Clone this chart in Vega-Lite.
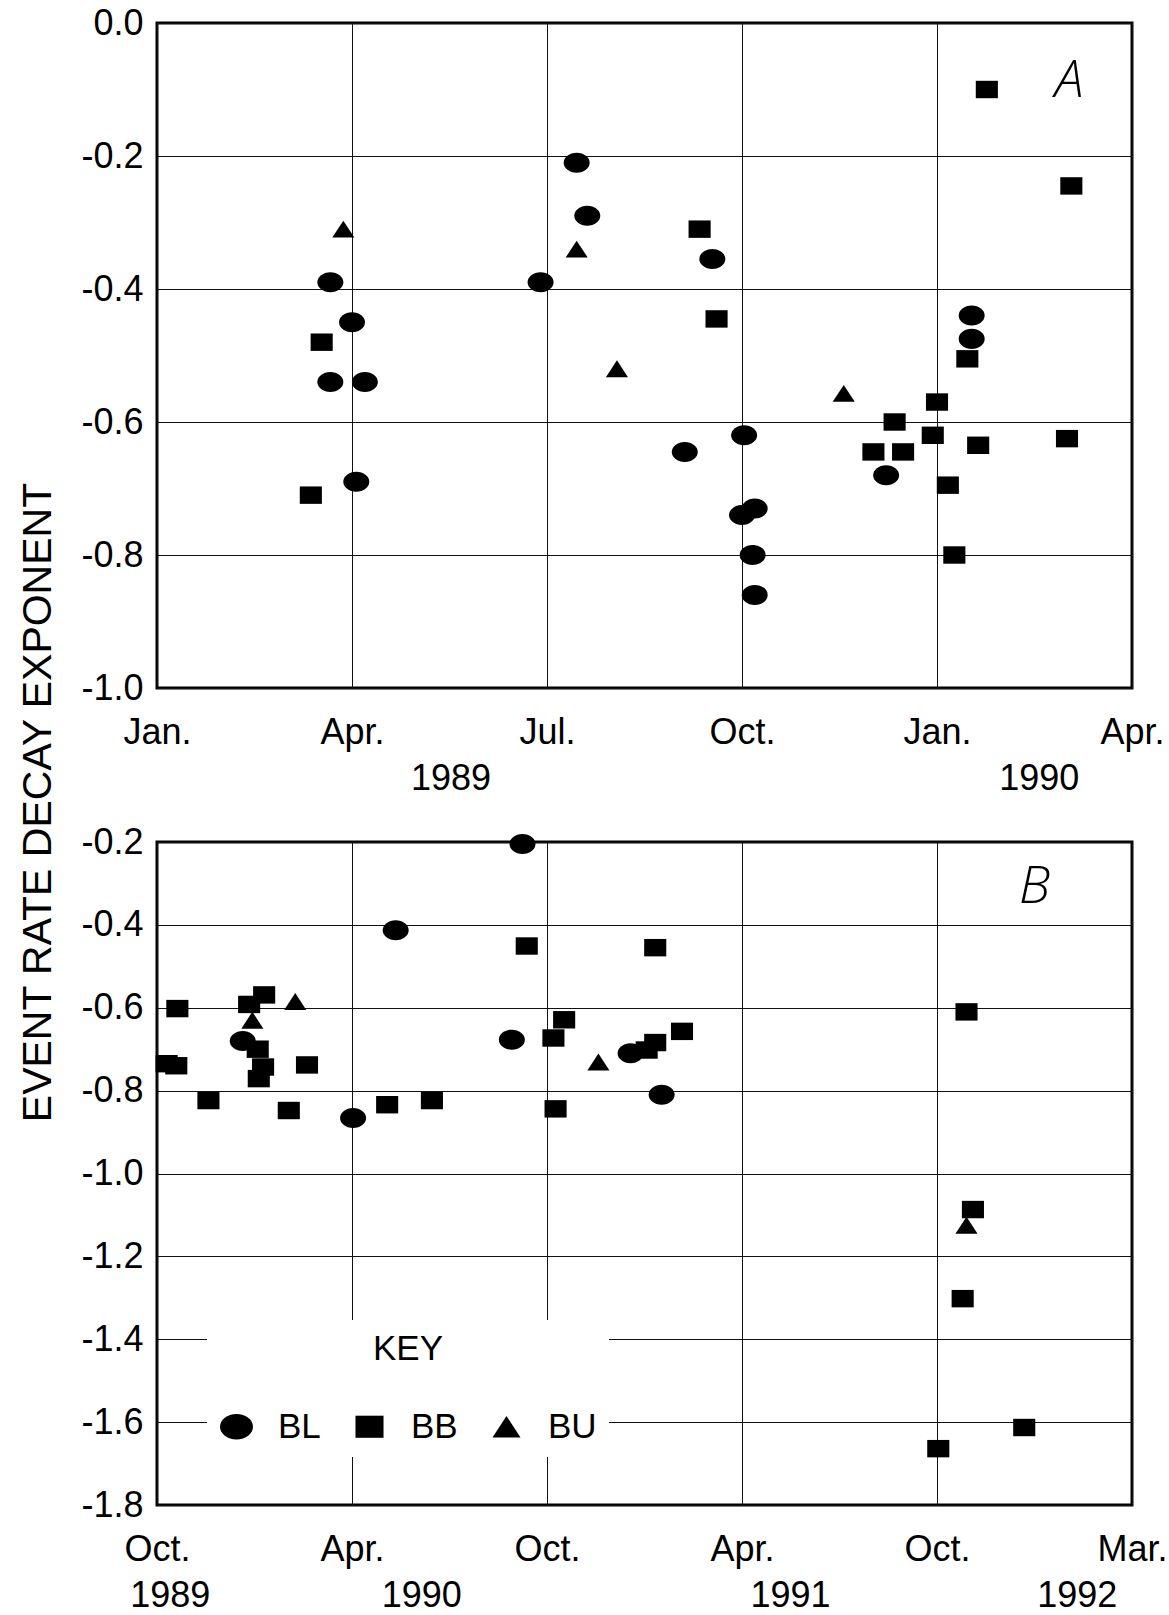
{
  "$schema": "https://vega.github.io/schema/vega-lite/v6.json",
  "background": "white",
  "padding": {"left": 15, "top": 3, "right": 5, "bottom": 5},
  "config": {
    "font": "Liberation Sans",
    "view": {"stroke": "#000", "strokeWidth": 3},
    "axis": {
      "domain": false,
      "ticks": false,
      "grid": true,
      "gridColor": "#111",
      "gridWidth": 1,
      "labelFont": "Liberation Sans",
      "labelFontSize": 36,
      "labelColor": "#000",
      "titleFont": "Liberation Sans",
      "titleColor": "#000",
      "titleFontWeight": "normal"
    },
    "legend": {
      "labelFont": "Liberation Sans",
      "titleFont": "Liberation Sans",
      "labelColor": "#000",
      "titleColor": "#000"
    }
  },
  "datasets": {
    "panelA": [
      {"date": "1989-03-22", "exponent": -0.39, "site": "BL"},
      {"date": "1989-04-01", "exponent": -0.45, "site": "BL"},
      {"date": "1989-03-22", "exponent": -0.54, "site": "BL"},
      {"date": "1989-04-07", "exponent": -0.54, "site": "BL"},
      {"date": "1989-04-03", "exponent": -0.69, "site": "BL"},
      {"date": "1989-06-28", "exponent": -0.39, "site": "BL"},
      {"date": "1989-07-15", "exponent": -0.21, "site": "BL"},
      {"date": "1989-07-20", "exponent": -0.29, "site": "BL"},
      {"date": "1989-09-04", "exponent": -0.645, "site": "BL"},
      {"date": "1989-09-17", "exponent": -0.355, "site": "BL"},
      {"date": "1989-10-02", "exponent": -0.62, "site": "BL"},
      {"date": "1989-10-01", "exponent": -0.74, "site": "BL"},
      {"date": "1989-10-07", "exponent": -0.73, "site": "BL"},
      {"date": "1989-10-06", "exponent": -0.8, "site": "BL"},
      {"date": "1989-10-07", "exponent": -0.86, "site": "BL"},
      {"date": "1989-12-08", "exponent": -0.68, "site": "BL"},
      {"date": "1990-01-17", "exponent": -0.44, "site": "BL"},
      {"date": "1990-01-17", "exponent": -0.475, "site": "BL"},
      {"date": "1989-03-18", "exponent": -0.48, "site": "BB"},
      {"date": "1989-03-13", "exponent": -0.71, "site": "BB"},
      {"date": "1989-09-11", "exponent": -0.31, "site": "BB"},
      {"date": "1989-09-19", "exponent": -0.445, "site": "BB"},
      {"date": "1989-12-02", "exponent": -0.645, "site": "BB"},
      {"date": "1989-12-12", "exponent": -0.6, "site": "BB"},
      {"date": "1989-12-16", "exponent": -0.645, "site": "BB"},
      {"date": "1989-12-30", "exponent": -0.62, "site": "BB"},
      {"date": "1990-01-01", "exponent": -0.57, "site": "BB"},
      {"date": "1990-01-06", "exponent": -0.695, "site": "BB"},
      {"date": "1990-01-09", "exponent": -0.8, "site": "BB"},
      {"date": "1990-01-15", "exponent": -0.505, "site": "BB"},
      {"date": "1990-01-20", "exponent": -0.635, "site": "BB"},
      {"date": "1990-01-24", "exponent": -0.1, "site": "BB"},
      {"date": "1990-03-04", "exponent": -0.245, "site": "BB"},
      {"date": "1990-03-02", "exponent": -0.625, "site": "BB"},
      {"date": "1989-03-28", "exponent": -0.31, "site": "BU"},
      {"date": "1989-07-15", "exponent": -0.34, "site": "BU"},
      {"date": "1989-08-03", "exponent": -0.52, "site": "BU"},
      {"date": "1989-11-18", "exponent": -0.557, "site": "BU"}
    ],
    "panelB": [
      {"date": "1989-12-20", "exponent": -0.68, "site": "BL"},
      {"date": "1990-04-02", "exponent": -0.866, "site": "BL"},
      {"date": "1990-05-12", "exponent": -0.413, "site": "BL"},
      {"date": "1990-09-08", "exponent": -0.205, "site": "BL"},
      {"date": "1990-08-29", "exponent": -0.677, "site": "BL"},
      {"date": "1990-12-18", "exponent": -0.71, "site": "BL"},
      {"date": "1991-01-16", "exponent": -0.81, "site": "BL"},
      {"date": "1989-10-10", "exponent": -0.735, "site": "BB"},
      {"date": "1989-10-19", "exponent": -0.74, "site": "BB"},
      {"date": "1989-10-20", "exponent": -0.602, "site": "BB"},
      {"date": "1989-11-18", "exponent": -0.824, "site": "BB"},
      {"date": "1989-12-26", "exponent": -0.592, "site": "BB"},
      {"date": "1990-01-09", "exponent": -0.569, "site": "BB"},
      {"date": "1990-01-03", "exponent": -0.7, "site": "BB"},
      {"date": "1990-01-08", "exponent": -0.743, "site": "BB"},
      {"date": "1990-01-04", "exponent": -0.771, "site": "BB"},
      {"date": "1990-02-18", "exponent": -0.738, "site": "BB"},
      {"date": "1990-02-01", "exponent": -0.848, "site": "BB"},
      {"date": "1990-05-04", "exponent": -0.834, "site": "BB"},
      {"date": "1990-06-15", "exponent": -0.824, "site": "BB"},
      {"date": "1990-09-12", "exponent": -0.451, "site": "BB"},
      {"date": "1990-10-07", "exponent": -0.673, "site": "BB"},
      {"date": "1990-10-17", "exponent": -0.629, "site": "BB"},
      {"date": "1990-10-09", "exponent": -0.844, "site": "BB"},
      {"date": "1991-01-02", "exponent": -0.702, "site": "BB"},
      {"date": "1991-01-10", "exponent": -0.684, "site": "BB"},
      {"date": "1991-01-10", "exponent": -0.455, "site": "BB"},
      {"date": "1991-02-04", "exponent": -0.657, "site": "BB"},
      {"date": "1991-10-24", "exponent": -0.61, "site": "BB"},
      {"date": "1991-10-29", "exponent": -1.087, "site": "BB"},
      {"date": "1991-10-21", "exponent": -1.302, "site": "BB"},
      {"date": "1991-10-02", "exponent": -1.664, "site": "BB"},
      {"date": "1991-12-08", "exponent": -1.613, "site": "BB"},
      {"date": "1989-12-29", "exponent": -0.63, "site": "BU"},
      {"date": "1990-02-07", "exponent": -0.585, "site": "BU"},
      {"date": "1990-11-18", "exponent": -0.731, "site": "BU"},
      {"date": "1991-10-24", "exponent": -1.125, "site": "BU"}
    ],
    "tagA": [{"date": "1990-03-03", "exponent": -0.087, "label": "A"}],
    "tagB": [{"date": "1991-12-16", "exponent": -0.309, "label": "B"}]
  },
  "spacing": 154,
  "bounds": "flush",
  "resolve": {"scale": {"shape": "independent"}, "legend": {"shape": "independent"}},
  "vconcat": [
    {
      "width": 975,
      "height": 665,
      "encoding": {
        "x": {
          "field": "date",
          "type": "quantitative",
          "scale": {
            "nice": false,
            "zero": false,
            "domain": [599616000000, 607392000000, 615254400000, 623203200000, 631152000000, 638928000000],
            "range": [0, 195, 390, 585, 780, 975]
          },
          "axis": {
            "title": null,
            "values": [599616000000, 607392000000, 615254400000, 623203200000, 631152000000, 638928000000, 611366400000, 635212800000],
            "labelExpr": "utcdate(datum.value) == 1 ? utcFormat(datum.value, '%b') + '.' : ['', utcFormat(datum.value, '%Y')]",
            "gridOpacity": {"condition": {"test": "utcdate(datum.value) != 1", "value": 0}, "value": 1},
            "labelPadding": 27,
            "labelLineHeight": 46,
            "labelFlush": false,
            "labelOverlap": false,
            "labelAlign": "center",
            "labelBaseline": "top"
          }
        },
        "y": {
          "field": "exponent",
          "type": "quantitative",
          "scale": {"domain": [-1, 0], "nice": false, "zero": false},
          "axis": {
            "values": [0, -0.2, -0.4, -0.6, -0.8, -1],
            "labelExpr": "(datum.value < -0.001 ? '-' : '') + format(abs(datum.value), '.1f')",
            "labelPadding": 14,
            "title": "EVENT RATE DECAY EXPONENT",
            "titleFontSize": 41,
            "titleAngle": 270,
            "titleAlign": "center",
            "titleBaseline": "middle",
            "titleX": -119,
            "titleY": 779
          }
        }
      },
      "layer": [
        {
          "data": {"name": "panelA", "format": {"parse": {"date": "utc:'%Y-%m-%d'"}}},
          "mark": {"type": "point", "filled": true, "color": "#000", "opacity": 1, "size": 676, "strokeWidth": 0},
          "encoding": {
            "shape": {
              "field": "site",
              "type": "nominal",
              "scale": {
                "domain": ["BL", "BB", "BU"],
                "range": [
                  "M-1,0A1,0.77,0,1,0,1,0A1,0.77,0,1,0,-1,0Z",
                  "M-0.85,-0.67H0.85V0.67H-0.85Z",
                  "M0,-0.65L0.85,0.65L-0.85,0.65Z"
                ]
              },
              "legend": null
            }
          }
        },
        {
          "data": {"name": "tagA", "format": {"parse": {"date": "utc:'%Y-%m-%d'"}}},
          "mark": {"type": "text", "font": "Open Sans", "fontStyle": "italic", "fontWeight": 300, "fontSize": 52, "color": "#000", "align": "center", "baseline": "middle"},
          "encoding": {"text": {"field": "label"}}
        }
      ]
    },
    {
      "width": 975,
      "height": 663,
      "encoding": {
        "x": {
          "field": "date",
          "type": "quantitative",
          "scale": {
            "nice": false,
            "zero": false,
            "domain": [623203200000, 638928000000, 654739200000, 670464000000, 686275200000, 699408000000],
            "range": [0, 195, 390, 585, 780, 975]
          },
          "axis": {
            "title": null,
            "values": [623203200000, 638928000000, 654739200000, 670464000000, 686275200000, 699408000000, 624240000000, 644544000000, 674352000000, 695692800000],
            "labelExpr": "utcdate(datum.value) == 1 ? utcFormat(datum.value, '%b') + '.' : ['', utcFormat(datum.value, '%Y')]",
            "gridOpacity": {"condition": {"test": "utcdate(datum.value) != 1", "value": 0}, "value": 1},
            "labelPadding": 27,
            "labelLineHeight": 46,
            "labelFlush": false,
            "labelOverlap": false,
            "labelAlign": "center",
            "labelBaseline": "top"
          }
        },
        "y": {
          "field": "exponent",
          "type": "quantitative",
          "scale": {"domain": [-1.8, -0.2], "nice": false, "zero": false},
          "axis": {
            "values": [-0.2, -0.4, -0.6, -0.8, -1, -1.2, -1.4, -1.6, -1.8],
            "labelExpr": "(datum.value < -0.001 ? '-' : '') + format(abs(datum.value), '.1f')",
            "labelPadding": 14,
            "title": null
          }
        }
      },
      "layer": [
        {
          "data": {"name": "panelB", "format": {"parse": {"date": "utc:'%Y-%m-%d'"}}},
          "mark": {"type": "point", "filled": true, "color": "#000", "opacity": 1, "size": 676, "strokeWidth": 0},
          "encoding": {
            "shape": {
              "field": "site",
              "type": "nominal",
              "scale": {
                "domain": ["BL", "BB", "BU"],
                "range": [
                  "M-1,0A1,0.77,0,1,0,1,0A1,0.77,0,1,0,-1,0Z",
                  "M-0.85,-0.67H0.85V0.67H-0.85Z",
                  "M0,-0.65L0.85,0.65L-0.85,0.65Z"
                ]
              },
              "legend": {
                "orient": "none",
                "legendX": 50,
                "legendY": 478,
                "direction": "horizontal",
                "title": "KEY",
                "titleAnchor": "middle",
                "titleFontSize": 35,
                "titleFontWeight": "normal",
                "titlePadding": 42,
                "labelFontSize": 35,
                "labelOffset": 24,
                "columnPadding": 31,
                "symbolSize": 1089,
                "symbolFillColor": "#000",
                "symbolStrokeColor": "#000",
                "symbolStrokeWidth": 0,
                "symbolOpacity": 1,
                "padding": 12,
                "fillColor": "white"
              }
            }
          }
        },
        {
          "data": {"name": "tagB", "format": {"parse": {"date": "utc:'%Y-%m-%d'"}}},
          "mark": {"type": "text", "font": "Open Sans", "fontStyle": "italic", "fontWeight": 300, "fontSize": 52, "color": "#000", "align": "center", "baseline": "middle"},
          "encoding": {"text": {"field": "label"}}
        }
      ]
    }
  ]
}
